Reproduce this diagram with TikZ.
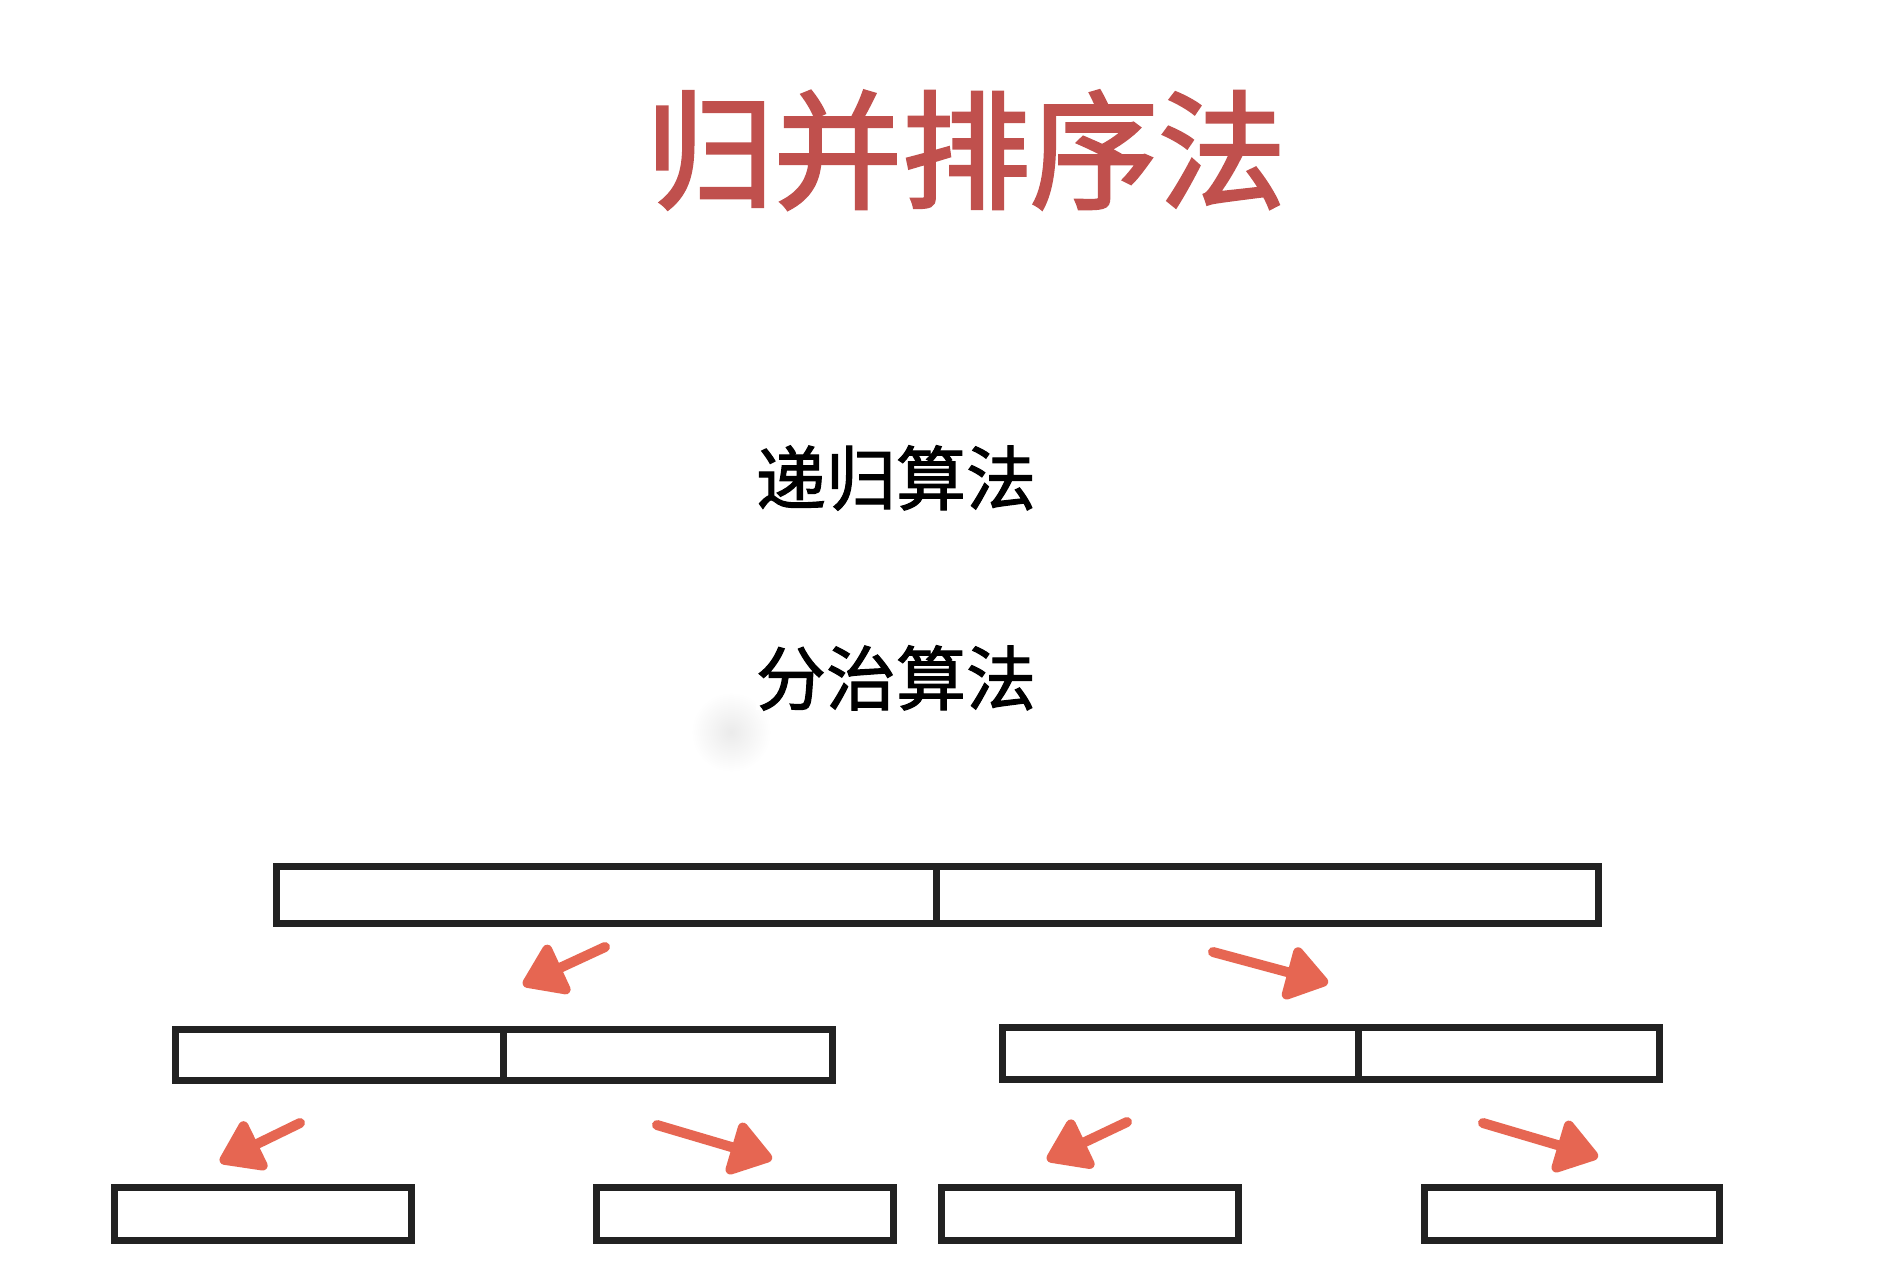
\documentclass[tikz,border=0pt]{standalone}
\usepackage{fontspec}
\setmainfont{Noto Sans CJK SC}
\newfontfamily\headfont[FakeBold=2.2]{Noto Sans CJK SC}
\newfontfamily\bodyfont[FakeBold=1.6]{Noto Sans CJK SC}
\usetikzlibrary{arrows.meta}

\definecolor{titlered}{RGB}{192,80,77}
\definecolor{sketchred}{RGB}{230,102,82}
\definecolor{boxline}{RGB}{34,34,34}

\tikzset{
  cell/.style={draw=boxline, line width=7pt, rectangle, inner sep=0pt, anchor=center},
  titletext/.style={text=titlered, font=\headfont\fontsize{128}{150}\selectfont, anchor=base, inner sep=0pt},
  plaintext/.style={text=black, font=\bodyfont\fontsize{70}{84}\selectfont, anchor=base, inner sep=0pt, fill=white},
  sketcharrow/.style={draw=sketchred, line width=10pt, line cap=round,
    -{Triangle[length=46pt, width=60pt, fill=sketchred, line join=round]}},
}

\begin{document}
\begin{tikzpicture}[x=1pt, y=-1pt]
  % page frame
  \useasboundingbox[fill=white] (0,0) rectangle (1899,1269);

  % faint smudge beside the second line
  \shade[inner color=black!8, outer color=white] (731,732) circle (40);

  % headings
  \node[titletext] (title) at (966,198.6) {归并排序法};
  \node[plaintext] (recursion) at (896,504.6) {递归算法};
  \node[plaintext] (divide) at (896,704.6) {分治算法};

  % level 0: the whole array, split in two halves
  \node[cell, minimum width=659.5pt, minimum height=57pt] (t1) at (606.25,895) {};
  \node[cell, minimum width=662.5pt, minimum height=57pt] (t2) at (1267.25,895) {};

  % level 1: the two halves, each split again
  \node[cell, minimum width=327.5pt, minimum height=51pt] (m1) at (339.25,1055) {};
  \node[cell, minimum width=329.5pt, minimum height=51pt] (m2) at (667.75,1055) {};
  \node[cell, minimum width=355.5pt, minimum height=52pt] (m3) at (1180.25,1053.5) {};
  \node[cell, minimum width=301.5pt, minimum height=52pt] (m4) at (1508.75,1053.5) {};

  % level 2: the four quarters
  \node[cell, minimum width=297pt, minimum height=53pt] (b1) at (263,1213.5) {};
  \node[cell, minimum width=297pt, minimum height=53pt] (b2) at (745,1213.5) {};
  \node[cell, minimum width=297pt, minimum height=53pt] (b3) at (1090,1213.5) {};
  \node[cell, minimum width=295pt, minimum height=53pt] (b4) at (1572,1213.5) {};

  % arrow ends
  \coordinate (a1s) at (605,947);   \coordinate (a1e) at (523,985);
  \coordinate (a2s) at (1213,952);  \coordinate (a2e) at (1328,983);
  \coordinate (a3s) at (300,1123);  \coordinate (a3e) at (220,1162);
  \coordinate (a4s) at (657,1125);  \coordinate (a4e) at (772,1159);
  \coordinate (a5s) at (1127,1122); \coordinate (a5e) at (1047,1160);
  \coordinate (a6s) at (1483,1123); \coordinate (a6e) at (1598,1157);

  % hand-drawn split arrows
  \draw[sketcharrow] (a1s) -- (a1e);
  \draw[sketcharrow] (a2s) -- (a2e);
  \draw[sketcharrow] (a3s) -- (a3e);
  \draw[sketcharrow] (a4s) -- (a4e);
  \draw[sketcharrow] (a5s) -- (a5e);
  \draw[sketcharrow] (a6s) -- (a6e);
\end{tikzpicture}
\end{document}
